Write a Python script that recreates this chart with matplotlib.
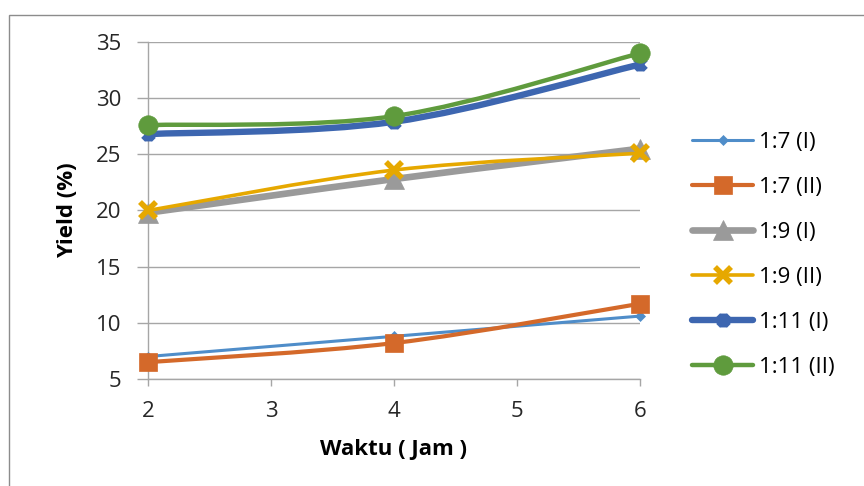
import numpy as np
import matplotlib
matplotlib.use('Agg')
import matplotlib.pyplot as plt
from matplotlib.path import Path
from matplotlib.patches import PathPatch, Rectangle
from matplotlib.lines import Line2D

plt.rcParams['font.family'] = ['Open Sans', 'DejaVu Sans']

# data
waktu = [2, 4, 6]
labels = ['1:7 (I)', '1:7 (II)', '1:9 (I)', '1:9 (II)', '1:11 (I)', '1:11 (II)']
yield_17_1 = [7.0, 8.8, 10.6]
yield_17_2 = [6.5, 8.2, 11.7]
yield_19_1 = [19.8, 22.8, 25.5]
yield_19_2 = [20.0, 23.6, 25.1]
yield_111_1 = [26.8, 27.9, 33.0]
yield_111_2 = [27.6, 28.4, 34.0]

# excel-like asterisk marker (x plus vertical bar)
star = Path([(-1, -1), (1, 1), (-1, 1), (1, -1), (0, -1.3), (0, 1.3)],
            [Path.MOVETO, Path.LINETO, Path.MOVETO, Path.LINETO, Path.MOVETO, Path.LINETO])

# colour, line width, marker, marker size, marker edge width
styles = [
    ('#4F8DC9', 2.2, 'D', 5.5, 0.5),
    ('#D4692A', 3.0, 's', 13.5, 0.5),
    ('#9A9A9A', 4.8, '^', 14.5, 0.5),
    ('#E6A800', 2.6, 'x', 11.0, 4.0),
    ('#3D66B0', 4.6, star, 10.0, 4.0),
    ('#5F9B3D', 3.2, 'o', 14.0, 0.5),
]
series = [yield_17_1, yield_17_2, yield_19_1, yield_19_2, yield_111_1, yield_111_2]


def smooth_path(xs, ys):
    # excel style smoothed line: bezier through the points
    pts = np.column_stack([xs, ys]).astype(float)
    n = len(pts)
    verts = [pts[0]]
    codes = [Path.MOVETO]
    for i in range(n - 1):
        p0 = pts[max(i - 1, 0)]
        p1 = pts[i]
        p2 = pts[i + 1]
        p3 = pts[min(i + 2, n - 1)]
        c1 = p1 + (p2 - p0) / 6.0
        c2 = p2 - (p3 - p1) / 6.0
        verts += [c1, c2, p2]
        codes += [Path.CURVE4] * 3
    return Path(verts, codes)


fig = plt.figure(figsize=(8.64, 4.86), dpi=100)
fig.patches.append(Rectangle((9 / 864, -0.1), 1.2, 1 - 15 / 486 + 0.1, transform=fig.transFigure,
                             fill=False, edgecolor='#8c8c8c', linewidth=1.0))
ax = fig.add_axes([148 / 864, 1 - 379 / 486, (640 - 148) / 864, (379 - 42) / 486])

handles = []
for k, (vals, (col, lw, mk, ms, mew)) in enumerate(zip(series, styles)):
    ax.add_patch(PathPatch(smooth_path(waktu, vals), fill=False, edgecolor=col,
                           linewidth=lw, capstyle='round', joinstyle='round', zorder=3 + k))
    ax.plot(waktu, vals, linestyle='none', marker=mk, markersize=ms, color=col,
            markeredgecolor=col, markeredgewidth=mew, zorder=3 + k, clip_on=False)
    handles.append(Line2D([], [], color=col, linewidth=lw, marker=mk, markersize=ms,
                          markeredgecolor=col, markeredgewidth=mew, solid_capstyle='round'))

ax.set_xlim(2, 6)
ax.set_ylim(5, 35)
ax.set_xticks([2, 3, 4, 5, 6])
ax.set_yticks(np.arange(5, 36, 5))
ax.grid(axis='y', color='#a6a6a6', linewidth=1.0)
ax.set_axisbelow(True)
for s in ['top', 'right']:
    ax.spines[s].set_visible(False)
for s in ['left', 'bottom']:
    ax.spines[s].set_color('#a6a6a6')
    ax.spines[s].set_linewidth(1.0)
ax.tick_params(axis='both', colors='#a6a6a6', labelcolor='#262626', labelsize=16, width=1.0)
ax.tick_params(axis='y', length=8, pad=11)
ax.tick_params(axis='x', length=5, pad=11)

ax.set_xlabel('Waktu ( Jam )', fontsize=16, fontweight='bold', labelpad=12)
ax.set_ylabel('Yield (%)', fontsize=16, fontweight='bold', labelpad=13)

ax.legend(handles, labels, loc='center left', bbox_to_anchor=(692 / 864, 1 - 255 / 486),
          bbox_transform=fig.transFigure, frameon=False, fontsize=16,
          handlelength=2.75, handletextpad=0.27, labelspacing=1.08, borderpad=0,
          borderaxespad=0)

fig.savefig('out.png', dpi=100)
